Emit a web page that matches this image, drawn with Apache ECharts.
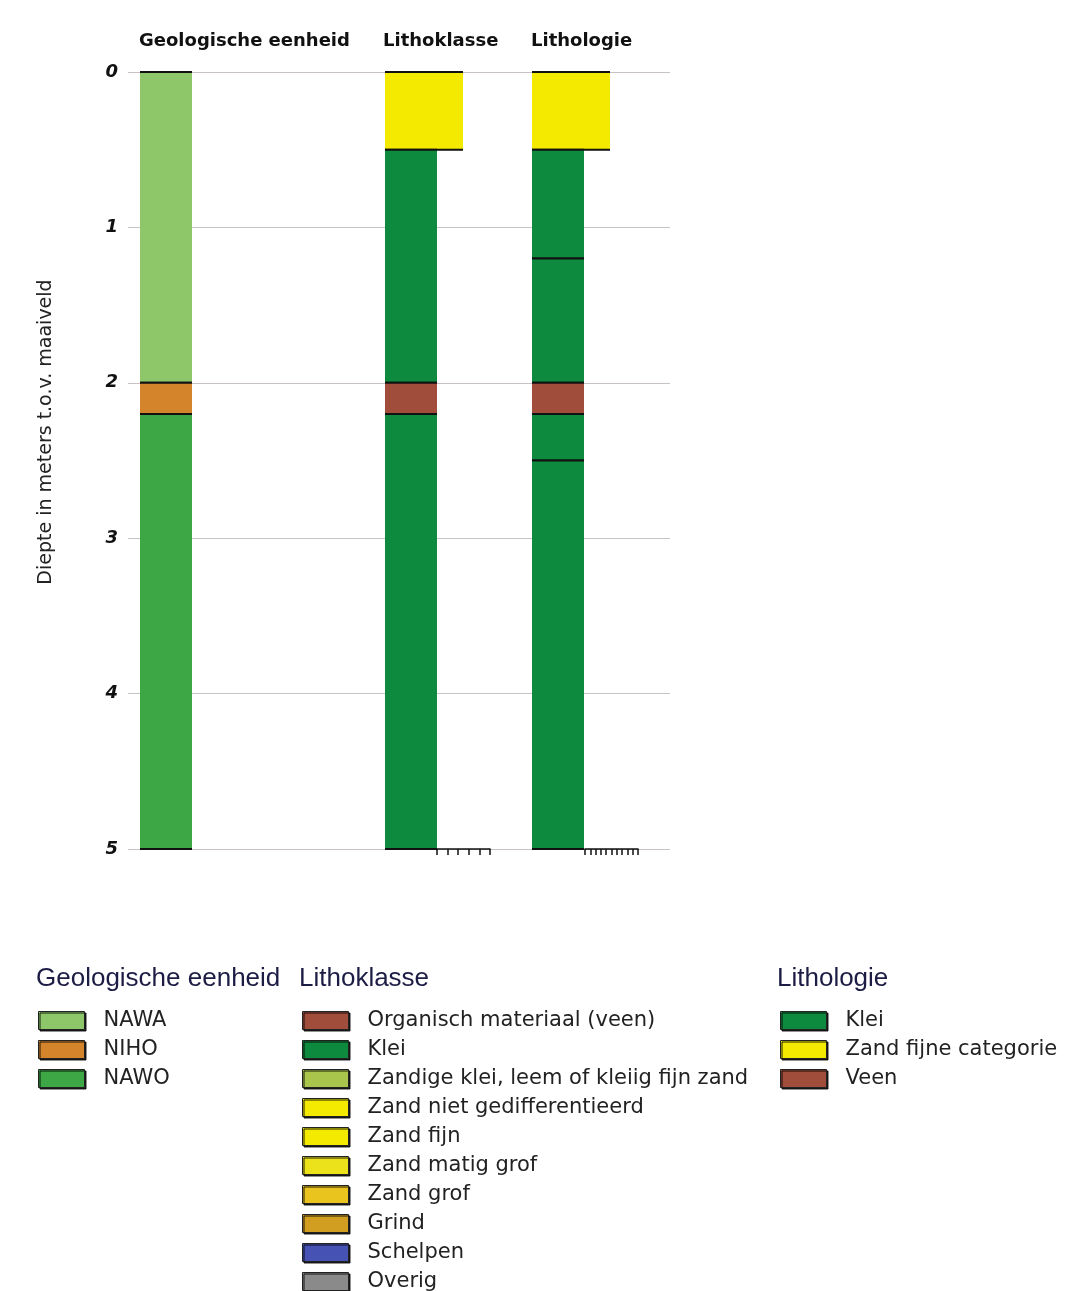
<!DOCTYPE html>
<html>
<head>
<meta charset="utf-8">
<title>Boorprofiel</title>
<script src="https://cdn.jsdelivr.net/npm/echarts@6/dist/echarts.min.js"></script>
<style>
  html, body { margin: 0; padding: 0; background: #fff; }
  #chart { width: 1066px; height: 1291px; }
</style>
</head>
<body>
<div id="chart"></div>
<script>
// depth axis (m below surface)
const depthTicks = [0, 1, 2, 3, 4, 5];

// Geologische eenheid column
const geoUnit = ['NAWA', 'NIHO', 'NAWO'];
const geoTop = [0, 2.0, 2.2];
const geoBase = [2.0, 2.2, 5.0];

// Lithoklasse column
const lkClass = ['Zand fijn', 'Klei', 'Organisch materiaal (veen)', 'Klei'];
const lkTop = [0, 0.5, 2.0, 2.2];
const lkBase = [0.5, 2.0, 2.2, 5.0];

// Lithologie column
const lgClass = ['Zand fijne categorie', 'Klei', 'Klei', 'Veen', 'Klei', 'Klei'];
const lgTop = [0, 0.5, 1.2, 2.0, 2.2, 2.5];
const lgBase = [0.5, 1.2, 2.0, 2.2, 2.5, 5.0];

// legend entries
const geoLegend = ['NAWA', 'NIHO', 'NAWO'];
const lkLegend = ['Organisch materiaal (veen)', 'Klei', 'Zandige klei, leem of kleiig fijn zand',
  'Zand niet gedifferentieerd', 'Zand fijn', 'Zand matig grof', 'Zand grof', 'Grind', 'Schelpen', 'Overig'];
const lgLegend = ['Klei', 'Zand fijne categorie', 'Veen'];

// relative column width by grain size
const grainWidth = {
  'Klei': 1, 'Veen': 1, 'Organisch materiaal (veen)': 1,
  'Zand fijn': 1.5, 'Zand fijne categorie': 1.5
};

const colors = {
  'NAWA': '#8dc76a',
  'NIHO': '#d4852c',
  'NAWO': '#3ca744',
  'Organisch materiaal (veen)': '#a14d3b',
  'Veen': '#a14d3b',
  'Klei': '#0e8a3e',
  'Zandige klei, leem of kleiig fijn zand': '#a9c54c',
  'Zand niet gedifferentieerd': '#f3ea00',
  'Zand fijn': '#f3ea00',
  'Zand fijne categorie': '#f3ea00',
  'Zand matig grof': '#ece21c',
  'Zand grof': '#e9c31e',
  'Grind': '#d29e22',
  'Schelpen': '#4752b5',
  'Overig': '#8a8a8a'
};

const FONT = 'DejaVu Sans';

function layers(names, tops, bases, fixedWidth) {
  return names.map((n, i) => ({
    name: n,
    value: [tops[i], bases[i], fixedWidth || grainWidth[n]],
    itemStyle: { color: colors[n] }
  }));
}

function renderLayer(params, api) {
  const p0 = api.coord([0, api.value(0)]);
  const p1 = api.coord([api.value(2), api.value(1)]);
  return {
    type: 'group',
    children: [
      { type: 'rect', shape: { x: p0[0], y: p0[1], width: p1[0] - p0[0], height: p1[1] - p0[1] },
        style: { fill: api.visual('color') } },
      { type: 'line', shape: { x1: p0[0], y1: p0[1], x2: p1[0], y2: p0[1] },
        style: { stroke: '#111', lineWidth: 2 } },
      { type: 'line', shape: { x1: p0[0], y1: p1[1], x2: p1[0], y2: p1[1] },
        style: { stroke: '#111', lineWidth: 2 } }
    ]
  };
}

const chart = echarts.init(document.getElementById('chart'));

const plotTop = 72, plotBottom = 1291 - 849;
const colGrid = (left) => ({ left: left, width: 78, top: plotTop, bottom: plotBottom });
const hiddenX = (gi) => ({ type: 'value', gridIndex: gi, min: 0, max: 1.5, show: false });
const hiddenY = (gi) => ({ type: 'value', gridIndex: gi, min: 0, max: 5, inverse: true, show: false });

const scaleAxis = (gi, max) => ({
  type: 'value', gridIndex: gi, min: 0, max: max, interval: 1, position: 'bottom',
  axisLine: { show: true, lineStyle: { color: '#111', width: 1.5 } },
  axisTick: { show: true, length: 6, lineStyle: { color: '#111', width: 1.5 } },
  axisLabel: { show: false }, splitLine: { show: false }
});

const legendBase = {
  orient: 'vertical',
  padding: 0,
  height: 320,
  itemWidth: 46,
  itemHeight: 18,
  itemGap: 8,
  icon: 'rect',
  selectedMode: false,
  itemStyle: { borderColor: '#222', borderWidth: 1, shadowColor: 'rgba(0,0,0,0.85)', shadowOffsetX: 1.5, shadowOffsetY: 1.5, shadowBlur: 0 },
  textStyle: { fontFamily: FONT, fontSize: 21, color: '#222', padding: [0, 0, 0, 14] }
};

const headStyle = { fontFamily: FONT, fontSize: 18, fontWeight: 'bold', color: '#111' };
const legHeadStyle = { fontFamily: 'Liberation Sans', fontSize: 26, fontWeight: 'normal', color: '#1c1c44' };

const legendNames = Array.from(new Set(geoLegend.concat(lkLegend, lgLegend)));

const option = {
  backgroundColor: '#fff',
  animation: false,
  title: [
    { text: 'Geologische eenheid', left: 139, top: 32, padding: 0, textStyle: headStyle },
    { text: 'Lithoklasse', left: 383, top: 32, padding: 0, textStyle: headStyle },
    { text: 'Lithologie', left: 531, top: 32, padding: 0, textStyle: headStyle },
    { text: 'Geologische eenheid', left: 36, top: 966, padding: 0, textStyle: legHeadStyle },
    { text: 'Lithoklasse', left: 299, top: 966, padding: 0, textStyle: legHeadStyle },
    { text: 'Lithologie', left: 777, top: 966, padding: 0, textStyle: legHeadStyle }
  ],
  graphic: [{
    type: 'text', x: 46, y: 432, rotation: Math.PI / 2,
    style: { text: 'Diepte in meters t.o.v. maaiveld', fontFamily: FONT, fontSize: 19,
      fill: '#222', align: 'center', verticalAlign: 'middle' }
  }],
  legend: [
    Object.assign({}, legendBase, { left: 38, top: 1010, data: geoLegend }),
    Object.assign({}, legendBase, { left: 302, top: 1010, data: lkLegend }),
    Object.assign({}, legendBase, { left: 780, top: 1010, data: lgLegend })
  ],
  grid: [
    { left: 128, right: 1066 - 670, top: plotTop, bottom: plotBottom },
    colGrid(140), colGrid(385), colGrid(532),
    { left: 437, width: 53, top: 848, height: 1 },
    { left: 585, width: 53, top: 848, height: 1 }
  ],
  xAxis: [
    hiddenX(0), hiddenX(1), hiddenX(2), hiddenX(3),
    scaleAxis(4, 5), scaleAxis(5, 10)
  ],
  yAxis: [
    {
      type: 'value', gridIndex: 0, min: depthTicks[0], max: depthTicks[depthTicks.length - 1],
      interval: 1, inverse: true,
      axisLine: { show: false }, axisTick: { show: false },
      axisLabel: { fontFamily: FONT, fontSize: 18, fontWeight: 'bold', fontStyle: 'italic', color: '#111', margin: 10 },
      splitLine: { show: true, lineStyle: { color: '#c9c2c2', width: 1.2 } }
    },
    hiddenY(1), hiddenY(2), hiddenY(3),
    { type: 'value', gridIndex: 4, show: false },
    { type: 'value', gridIndex: 5, show: false }
  ],
  series: [
    { name: 'Geologische eenheid', type: 'custom', xAxisIndex: 1, yAxisIndex: 1,
      renderItem: renderLayer, encode: { x: 2, y: [0, 1] }, data: layers(geoUnit, geoTop, geoBase, 1) },
    { name: 'Lithoklasse', type: 'custom', xAxisIndex: 2, yAxisIndex: 2,
      renderItem: renderLayer, encode: { x: 2, y: [0, 1] }, data: layers(lkClass, lkTop, lkBase) },
    { name: 'Lithologie', type: 'custom', xAxisIndex: 3, yAxisIndex: 3,
      renderItem: renderLayer, encode: { x: 2, y: [0, 1] }, data: layers(lgClass, lgTop, lgBase) }
  ].concat(legendNames.map(n => ({
    name: n, type: 'scatter', xAxisIndex: 0, yAxisIndex: 0, data: [],
    itemStyle: { color: colors[n], opacity: 1 }
  })))
};

chart.setOption(option);
</script>
</body>
</html>
